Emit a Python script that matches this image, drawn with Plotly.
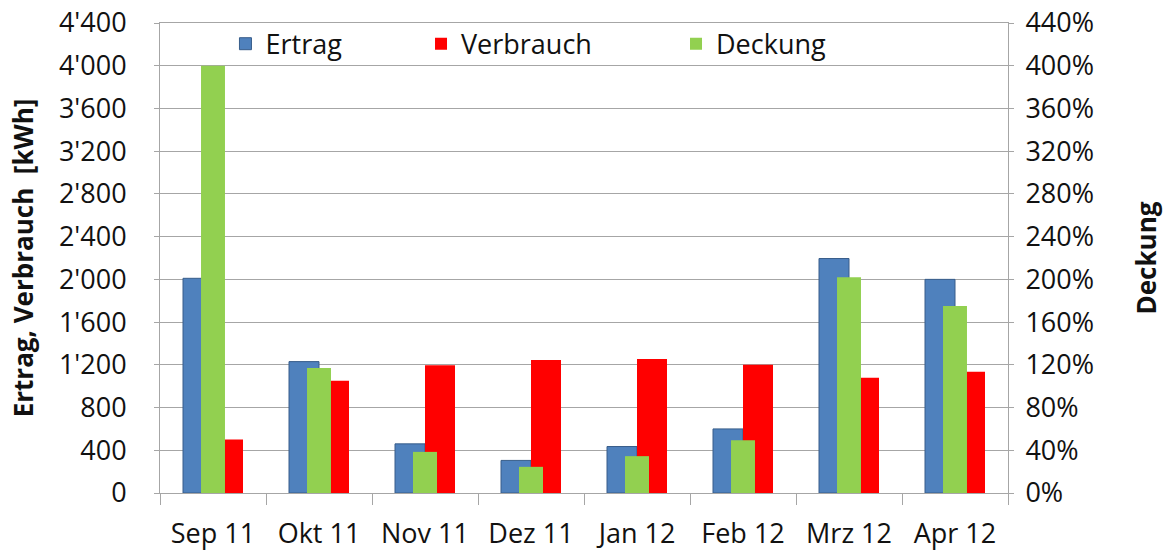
import plotly.graph_objects as go

months = ["Sep 11", "Okt 11", "Nov 11", "Dez 11", "Jan 12", "Feb 12", "Mrz 12", "Apr 12"]
ertrag = [2010, 1230, 460, 305, 435, 600, 2195, 2000]          # kWh
verbrauch = [500, 1050, 1195, 1245, 1255, 1200, 1080, 1135]    # kWh
deckung = [400, 117, 38.5, 24.5, 34.5, 49.5, 202, 175]         # %

left_ticks = list(range(0, 4401, 400))
right_ticks = list(range(0, 441, 40))
right_labels = [f"{v}%" for v in right_ticks]

FONT = "Open Sans, Lato, DejaVu Sans, sans-serif"
GRID = "#A6A6A6"

fig = go.Figure()
fig.add_trace(go.Bar(
    x=months, y=ertrag, name="Ertrag", yaxis="y",
    marker=dict(color="#4F81BD", line=dict(color="#385D8A", width=1)),
    width=0.283, offset=-0.283, legend="legend", showlegend=True,
))
fig.add_trace(go.Bar(
    x=months, y=verbrauch, name="Verbrauch", yaxis="y",
    marker=dict(color="#FF0000", line=dict(width=0)),
    width=0.283, offset=0.0, legend="legend2", showlegend=True,
))
fig.add_trace(go.Bar(
    x=months, y=deckung, name="Deckung", yaxis="y2",
    marker=dict(color="#92D050", line=dict(width=0)),
    width=0.226, offset=-0.113, legend="legend3", showlegend=True,
))

legend_common = dict(
    orientation="h", yanchor="middle", y=0.955, xanchor="left",
    bgcolor="rgba(0,0,0,0)", borderwidth=0,
    font=dict(family=FONT, size=27, color="#111"),
)

fig.update_layout(
    width=1167, height=553,
    margin=dict(l=160, r=159, t=23, b=60, autoexpand=False),
    paper_bgcolor="white", plot_bgcolor="white",
    separators=".'",
    barmode="overlay",
    showlegend=True,
    font=dict(family=FONT, color="#111"),
    legend=dict(legend_common, x=0.0772),
    legend2=dict(legend_common, x=0.3078),
    legend3=dict(legend_common, x=0.6085),
    xaxis=dict(
        type="category", categoryorder="array", categoryarray=months,
        range=[-0.5, 7.5], automargin=False,
        showline=True, linecolor=GRID, linewidth=1, mirror=True,
        ticks="outside", tickson="boundaries", ticklen=11, tickcolor=GRID,
        tickfont=dict(family=FONT, size=27, color="#111"),
        ticklabelstandoff=17,
        showgrid=False,
    ),
    yaxis=dict(
        range=[0, 4400], tickvals=left_ticks, tickformat=",d",
        automargin=False,
        showgrid=True, gridcolor=GRID, gridwidth=1,
        showline=True, linecolor=GRID, linewidth=1,
        ticks="outside", ticklen=5, tickcolor=GRID,
        tickfont=dict(family=FONT, size=27, color="#111"),
        ticklabelstandoff=22,
        title=dict(text="<b>Ertrag, Verbrauch  [kWh]</b>",
                   font=dict(family=FONT, size=26, color="#111"), standoff=17),
        zeroline=False,
    ),
    yaxis2=dict(
        overlaying="y", side="right", automargin=False,
        range=[0, 440], tickvals=right_ticks, ticktext=right_labels,
        showgrid=False,
        showline=True, linecolor=GRID, linewidth=1,
        ticks="outside", ticklen=5, tickcolor=GRID,
        tickfont=dict(family=FONT, size=27, color="#111"),
        ticklabelstandoff=6,
        title=dict(text="<b>Deckung</b>",
                   font=dict(family=FONT, size=26, color="#111"), standoff=44),
        zeroline=False,
    ),
)

fig.write_html(
    "out.html",
    config={"displayModeBar": False},
    post_script="document.body.style.margin='0';document.body.style.overflow='hidden';",
)
